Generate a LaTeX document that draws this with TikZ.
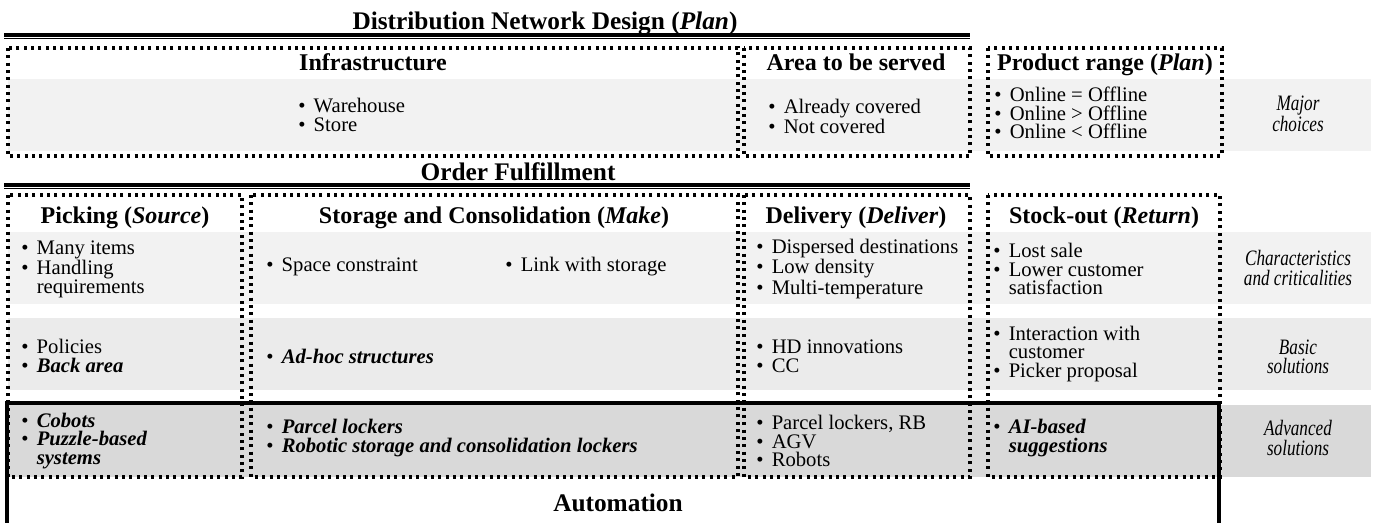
\documentclass[tikz,border=0pt]{standalone}
\usepackage{fontspec}
\setmainfont{Liberation Serif}
\newfontfamily\lblfont[FakeStretch=0.78]{Liberation Serif}
\definecolor{bandA}{HTML}{F2F2F2}
\definecolor{bandB}{HTML}{EBEBEB}
\definecolor{bandC}{HTML}{D9D9D9}
\newcommand\myb{\makebox[0.75em][l]{\textbullet}}
\newcommand\myi{\makebox[0.75em]{}}
\newcommand\bi[1]{\textbf{\textit{#1}}}
\begin{document}
\begin{tikzpicture}[x=0.75pt,y=-0.75pt,
  body/.style={font=\fontsize{15.5}{14}\selectfont, align=left, anchor=west, inner sep=0pt},
  head/.style={font=\fontsize{18}{20}\selectfont\bfseries, anchor=base, inner sep=0pt},
  ttl/.style={font=\fontsize{19}{21}\selectfont\bfseries, anchor=base, inner sep=0pt},
  lbl/.style={font=\lblfont\itshape\fontsize{16.5}{14.6}\selectfont, align=center, inner sep=0pt},
  dotbox/.style={line width=2.3pt, dash pattern=on 2.3pt off 3.2pt},
  rulethick/.style={line width=2.3pt},
  rulethin/.style={line width=0.9pt},
  ]
\useasboundingbox (0,0) rectangle (1378,522);
% gray bands
\fill[bandA] (8,79) rectangle (1371,151);
\fill[bandA] (8,232) rectangle (1371,304);
\fill[bandB] (8,318) rectangle (1371,390);
\fill[bandC] (8,405) rectangle (1371,477);

% ---- Distribution Network Design
\node[ttl] (t1) at (545,29) {Distribution Network Design (\textit{Plan})};
\coordinate (r1a) at (4,35); \coordinate (r1b) at (970,35);
\coordinate (r1c) at (4,38.7); \coordinate (r1d) at (970,38.7);
\draw[rulethick] (r1a) -- (r1b);
\draw[rulethin] (r1c) -- (r1d);

\draw[dotbox] (8,48) rectangle (738,156);
\draw[dotbox] (744,48) rectangle (970,156);
\draw[dotbox] (988,48) rectangle (1222,156);

\node[head] (h1) at (373,70) {Infrastructure};
\node[head] (h2) at (856,70) {Area to be served};
\node[head] (h3) at (1105,70) {Product range (\textit{Plan})};

\node[body] (l1) at (298,115) {\myb Warehouse\\ \myb Store};
\node[body] (l2) at (768,116) {\myb Already covered\\ \myb Not covered};
\node[body] (l3) at (994,113) {\myb Online = Offline\\ \myb Online > Offline\\ \myb Online < Offline};
\node[lbl] (c0) at (1298,114) {Major\\choices};

% ---- Order Fulfillment
\node[ttl] (t2) at (518,180) {Order Fulfillment};
\coordinate (r2a) at (4,185); \coordinate (r2b) at (970,185);
\coordinate (r2c) at (4,188.7); \coordinate (r2d) at (970,188.7);
\draw[rulethick] (r2a) -- (r2b);
\draw[rulethin] (r2c) -- (r2d);

\draw[dotbox] (8,195) rectangle (242,477);
\draw[dotbox] (251,195) rectangle (738,477);
\draw[dotbox] (744,195) rectangle (970,477);
\draw[dotbox] (988,195) rectangle (1220,477);

\node[head] (h4) at (125,223) {Picking (\textit{Source})};
\node[head] (h5) at (494,223) {Storage and Consolidation (\textit{Make})};
\node[head] (h6) at (856,223) {Delivery (\textit{Deliver})};
\node[head] (h7) at (1104,223) {Stock-out (\textit{Return})};

\node[body] (p1) at (21,269) {\myb Many items\\ \myb Handling\\ \myi requirements};
\node[body] (s1) at (266,267) {\myb Space constraint};
\node[body] (s1b) at (505,267) {\myb Link with storage};
\node[body] (d1) at (756,269) {\myb Dispersed destinations\\ \myb Low density\\ \myb Multi-temperature};
\node[body] (k1) at (993,269) {\myb Lost sale\\ \myb Lower customer\\ \myi satisfaction};
\node[lbl] (c1) at (1298,268) {Characteristics\\and criticalities};

\node[body] (p2) at (21,356) {\myb Policies\\ \myb \bi{Back area}};
\node[body] (s2) at (266,356) {\myb \bi{Ad-hoc structures}};
\node[body] (d2) at (756,356) {\myb HD innovations\\ \myb CC};
\node[body] (k2) at (993,354) {\myb Interaction with\\ \myi customer\\ \myb Picker proposal};
\node[lbl] (c2) at (1298,357) {Basic\\solutions};

\node[body] (p3) at (21,441) {\myb \bi{Cobots}\\ \myb \bi{Puzzle-based}\\ \myi \bi{systems}};
\node[body] (s3) at (266,438) {\myb \bi{Parcel lockers}\\ \myb \bi{Robotic storage and consolidation lockers}};
\node[body] (d3) at (756,441) {\myb Parcel lockers, RB\\ \myb AGV\\ \myb Robots};
\node[body] (k3) at (993,438) {\myb \bi{AI-based}\\ \myi \bi{suggestions}};
\node[lbl] (c3) at (1298,438) {Advanced\\solutions};

% ---- Automation
\coordinate (a1) at (7,540); \coordinate (a2) at (7,403);
\coordinate (a3) at (1219,403); \coordinate (a4) at (1219,540);
\draw[rulethick] (a1) -- (a2) -- (a3) -- (a4);
\node[ttl] (t3) at (618,511) {Automation};
\end{tikzpicture}
\end{document}
